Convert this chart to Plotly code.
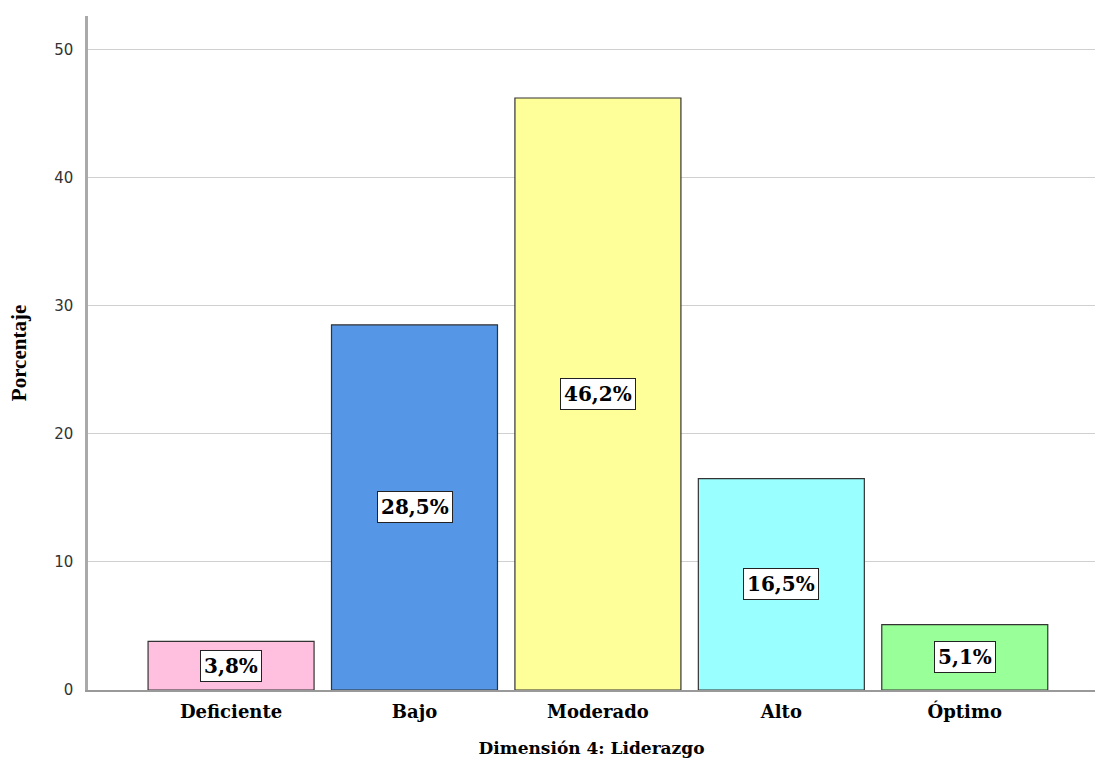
import plotly.graph_objects as go

categories = ["Deficiente", "Bajo", "Moderado", "Alto", "Óptimo"]
percentages = [3.8, 28.5, 46.2, 16.5, 5.1]
bar_colors = ["#FFC0E0", "#5596E6", "#FFFF99", "#99FFFF", "#99FF99"]
y_ticks = [0, 10, 20, 30, 40, 50]

serif_wide = "DejaVu Serif, Georgia, serif"
serif = "Liberation Serif, Times New Roman, serif"
sans = "DejaVu Sans, Verdana, sans-serif"

fig = go.Figure()
fig.add_trace(go.Bar(
    x=categories,
    y=percentages,
    marker=dict(color=bar_colors, line=dict(color="#333333", width=1.2)),
    width=0.905,
    hoverinfo="skip",
))

# value labels in white boxes at the middle of each bar
for cat, val in zip(categories, percentages):
    fig.add_annotation(
        x=cat, y=val / 2, xref="x", yref="y",
        text=f"<b>{val:.1f}%</b>".replace(".", ","),
        showarrow=False,
        font=dict(family=serif_wide, size=20, color="black"),
        bgcolor="white", bordercolor="#222222", borderwidth=1, borderpad=3,
    )

fig.update_layout(
    width=1095, height=758,
    margin=dict(l=88, r=0, t=16, b=68),
    paper_bgcolor="white", plot_bgcolor="white",
    showlegend=False,
    xaxis=dict(
        range=[-0.78, 4.71],
        showgrid=False,
        showline=True, linecolor="#999999", linewidth=1.5,
        ticks="", tickfont=dict(family=serif_wide, size=18, color="black", weight="bold"),
        ticklabelstandoff=5,
        title=dict(text="<b>Dimensión 4: Liderazgo</b>",
                   font=dict(family=serif_wide, size=17, color="black"), standoff=21),
    ),
    yaxis=dict(
        range=[0, 52.6],
        tickvals=y_ticks,
        showgrid=True, gridcolor="#D0D0D0", gridwidth=1.2,
        zeroline=False,
        showline=True, linecolor="#AAAAAA", linewidth=2.5,
        ticks="", tickfont=dict(family=sans, size=15, color="#333333"),
        ticklabelstandoff=9,
        title=dict(text="<b>Porcentaje</b>",
                   font=dict(family=serif, size=21, color="black"), standoff=22),
    ),
)

fig.write_html("out.html")
